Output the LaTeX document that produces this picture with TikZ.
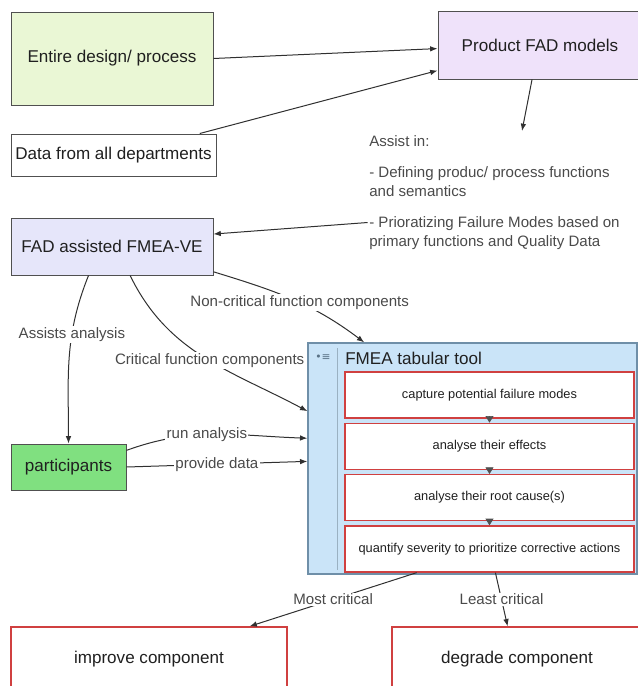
\documentclass[tikz,border=0pt]{standalone}
\usepackage{fontspec}
\setmainfont{Liberation Sans}
\newfontfamily\iconfont{DejaVu Sans}
\usetikzlibrary{positioning,arrows.meta}

\definecolor{designgreen}{HTML}{EAF7D5}
\definecolor{productviolet}{HTML}{EFE2FA}
\definecolor{fadblue}{HTML}{E6E6FA}
\definecolor{partgreen}{HTML}{80E080}
\definecolor{toolblue}{HTML}{CAE4F8}
\definecolor{toolborder}{HTML}{6F8FA8}
\definecolor{stepred}{HTML}{D04040}
\definecolor{boxgray}{HTML}{505050}
\definecolor{linegray}{HTML}{303030}
\definecolor{textdark}{HTML}{202020}
\definecolor{labelgray}{HTML}{4A4A4A}

\tikzset{
  box/.style={draw=boxgray, line width=0.75pt, inner sep=0pt, text=textdark,
    font=\fontsize{12.8}{15}\selectfont},
  stepbox/.style={draw=stepred, line width=1pt, fill=white, text=textdark,
    minimum width=216.75pt, minimum height=34.5pt,
    font=\fontsize{9.6}{11}\selectfont},
  note/.style={anchor=north west, inner sep=0pt, align=left, text=labelgray,
    font=\fontsize{11.3}{13.9}\selectfont},
  lbl/.style={fill=white, inner sep=1pt, text=labelgray,
    font=\fontsize{11.3}{13.9}\selectfont},
  arr/.style={draw=linegray, line width=0.75pt, -{Latex[length=5.5pt,width=4.2pt]}},
  flowtip/.style={draw=boxgray, line width=0.5pt, -{Triangle[length=5pt,width=6pt]}}
}

\begin{document}
\begin{tikzpicture}[x=0.75pt, y=0.75pt]
\useasboundingbox (0,0) rectangle (638,-686);

% inputs
\node [box, fill=designgreen, minimum width=151.5pt, minimum height=69.75pt]
  (design) at (112,-58.5) {Entire design/ process};
\node [box, fill=white, minimum width=153.75pt, minimum height=31.5pt]
  (data) at (113.5,-155) {Data from all departments};
\node [box, fill=productviolet, minimum width=153pt, minimum height=51pt]
  (product) at (540,-45) {Product FAD models};

% what the models help with
\node [note] (assisthead) at (369,-135.5) {Assist in:};
\node [note] (assistdef) at (369,-166.5) {- Defining produc/ process functions\\and semantics};
\node [note] (assistprio) at (369,-216.5) {- Prioratizing Failure Modes based on\\primary functions and Quality Data};
\coordinate (assistpoint) at (522,-131);

\node [box, fill=fadblue, minimum width=151.5pt, minimum height=42.75pt]
  (fad) at (112,-246.5) {FAD assisted FMEA-VE};
\node [box, fill=partgreen, minimum width=86.25pt, minimum height=34.5pt]
  (participants) at (68.5,-467) {participants};

% the tabular tool
\node [draw=toolborder, line width=1pt, fill=toolblue, inner sep=0pt,
  minimum width=246.75pt, minimum height=173.25pt] (tool) at (472.5,-458.5) {};
\draw [toolborder!70, line width=0.6pt] (337,-348) -- (337,-570);
\node [text=toolborder!80!black, inner sep=0pt, font=\iconfont\fontsize{8}{8}\selectfont]
  (toolicon) at (323,-358) {•≡};
\node [anchor=west, inner sep=0pt, text=textdark, font=\fontsize{12.8}{15}\selectfont]
  (tooltitle) at (345,-358) {FMEA tabular tool};

\node [stepbox] (capture) at (489.5,-395) {capture potential failure modes};
\node [stepbox, below=3pt of capture] (effects) {analyse their effects};
\node [stepbox, below=3pt of effects] (rootcause) {analyse their root cause(s)};
\node [stepbox, below=3pt of rootcause] (severity) {quantify severity to prioritize corrective actions};

\draw [flowtip] (capture) -- (effects);
\draw [flowtip] (effects) -- (rootcause);
\draw [flowtip] (rootcause) -- (severity);

% outcomes
\node [box, draw=stepred, line width=1pt, fill=white, minimum width=207pt, minimum height=48pt]
  (improve) at (149,-659) {improve component};
\node [box, draw=stepred, line width=1pt, fill=white, minimum width=187.5pt, minimum height=48pt]
  (degrade) at (517,-659) {degrade component};

% connectors
\draw [arr] (design.east) -- (product.182);
\draw [arr] (data.14) -- (product.194);
\draw [arr] (product.257) -- (assistpoint);
\draw [arr] ([xshift=-1pt,yshift=-4.5pt]assistprio.north west) -- (fad.7);

\draw [arr] (fad.-129) to[out=-112, in=90]
  node[lbl, pos=0.35] {Assists analysis} (participants.north);
\draw [arr] (fad.-58) to[out=-64, in=152]
  node[lbl, pos=0.53] {Critical function components} (tool.164);
\draw [arr] (fad.-14) to[out=-17, in=143]
  node[lbl, pos=0.55] {Non-critical function components} (tool.133);

\draw [arr] (participants.16) to[out=20, in=178]
  node[lbl, pos=0.45] {run analysis} (tool.173);
\draw [arr] (participants.east) --
  node[lbl] {provide data} (tool.181);

\draw [arr] (severity.198) -- node[lbl] {Most critical} (improve.18);
\draw [arr] (severity.-76) -- node[lbl] {Least critical} (degrade.106);

\end{tikzpicture}
\end{document}
